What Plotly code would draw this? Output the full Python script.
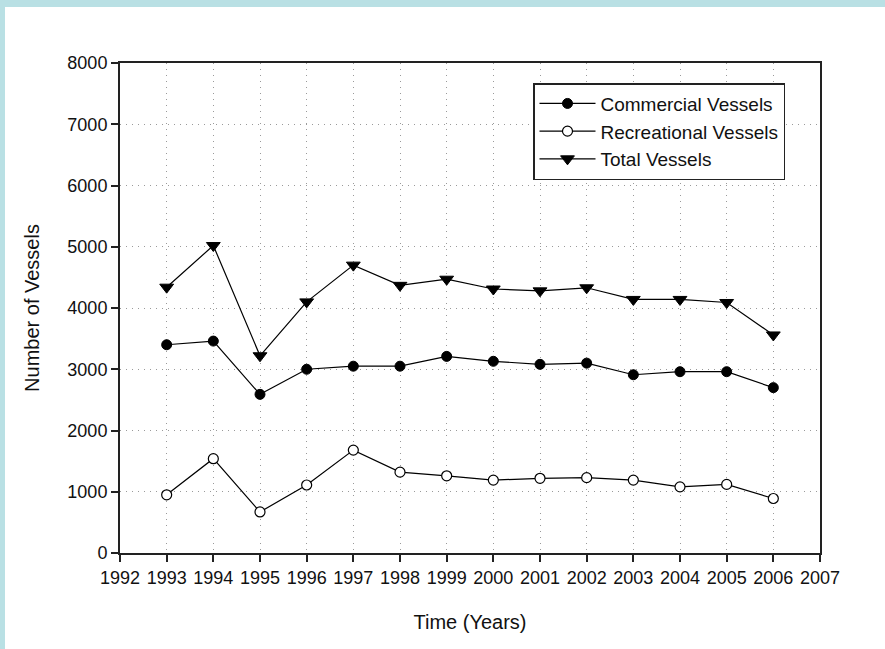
import plotly.graph_objects as go

years = [1993, 1994, 1995, 1996, 1997, 1998, 1999, 2000, 2001, 2002, 2003, 2004, 2005, 2006]
commercial = [3400, 3460, 2590, 3000, 3050, 3050, 3210, 3130, 3080, 3100, 2910, 2960, 2960, 2700]
recreational = [950, 1540, 670, 1110, 1680, 1320, 1260, 1190, 1220, 1230, 1190, 1080, 1120, 890]
total = [4340, 5020, 3220, 4100, 4700, 4370, 4470, 4310, 4280, 4330, 4140, 4140, 4090, 3560]

x_ticks = list(range(1992, 2008))
y_ticks = list(range(0, 8001, 1000))

FONT = "Liberation Sans, Arial, sans-serif"
INK = "#111111"

fig = go.Figure()
fig.add_trace(go.Scatter(
    x=years, y=commercial, name="Commercial Vessels", mode="lines+markers",
    line=dict(color="black", width=1.2),
    marker=dict(symbol="circle", size=10, color="black", line=dict(color="black", width=1)),
))
fig.add_trace(go.Scatter(
    x=years, y=recreational, name="Recreational Vessels", mode="lines+markers",
    line=dict(color="black", width=1.2),
    marker=dict(symbol="circle", size=10, color="white", line=dict(color="black", width=1.2)),
))
fig.add_trace(go.Scatter(
    x=years, y=total, name="Total Vessels", mode="lines+markers",
    line=dict(color="black", width=1.2),
    marker=dict(symbol="triangle-down", size=12, color="black", line=dict(color="black", width=1)),
))

axis_common = dict(
    showline=True, mirror=True, linecolor="#222222", linewidth=2,
    ticks="outside", ticklen=7, tickwidth=1.5, tickcolor="#222222",
    showgrid=True, gridcolor="#9a9a9a", griddash="1px,5px", gridwidth=1,
    zeroline=False, tickfont=dict(family=FONT, size=18, color=INK),
)

fig.update_xaxes(
    range=[1992, 2007], tickvals=x_ticks, ticktext=[str(v) for v in x_ticks],
    title=dict(text="Time (Years)", font=dict(family=FONT, size=20, color=INK), standoff=28),
    **axis_common,
)
fig.update_yaxes(
    range=[0, 8000], tickvals=y_ticks, ticktext=[str(v) for v in y_ticks],
    title=dict(text="Number of Vessels", font=dict(family=FONT, size=20, color=INK), standoff=22),
    **axis_common,
)

band = "#B9E0E4"
fig.update_layout(
    width=885, height=649, autosize=False,
    margin=dict(l=120, r=65, t=63, b=96),
    paper_bgcolor="white", plot_bgcolor="white",
    font=dict(family=FONT, color=INK),
    showlegend=True,
    legend=dict(
        x=0.59, y=0.959, xanchor="left", yanchor="top",
        bgcolor="white", bordercolor="#222222", borderwidth=1.5,
        font=dict(family=FONT, size=19, color=INK),
        tracegroupgap=0, itemwidth=56,
    ),
    shapes=[
        dict(type="rect", xref="paper", yref="paper", layer="above",
             x0=-0.4, x1=(5 - 120) / 700, y0=-0.5, y1=1.5,
             fillcolor=band, line=dict(width=0)),
        dict(type="rect", xref="paper", yref="paper", layer="above",
             x0=-0.4, x1=1.4, y0=(553 - 7) / 490, y1=1.5,
             fillcolor=band, line=dict(width=0)),
    ],
)

fig.write_html(
    "out.html",
    config={"displayModeBar": False},
    post_script="document.body.style.margin='0';document.body.style.overflow='hidden';",
)
